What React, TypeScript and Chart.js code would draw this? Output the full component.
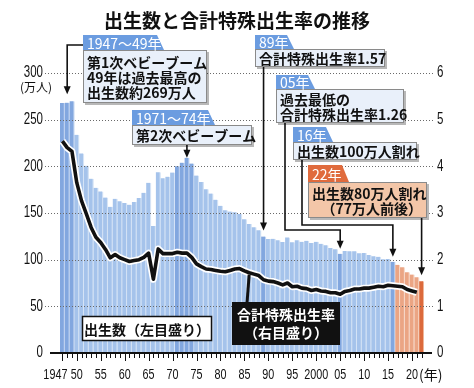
import React, { useEffect, useRef } from "react";
import { Chart, registerables } from "chart.js";
Chart.register(...registerables);

// ---- data ----
const years: number[] = [];
for (let y = 1947; y <= 2022; y++) years.push(y);

// births, 10k persons (万人)
const births = [
  267.9, 268.2, 269.7, 233.8, 213.8, 200.5, 186.8, 177.0, 173.1, 166.5,
  156.7, 165.3, 162.6, 160.6, 158.9, 161.9, 166.0, 171.7, 182.4, 136.1,
  193.6, 187.2, 188.9, 193.4, 200.1, 203.9, 209.2, 203.0, 190.1, 183.3,
  175.5, 170.9, 164.3, 157.7, 152.9, 151.5, 150.9, 149.0, 143.2, 138.3,
  134.7, 131.4, 124.7, 122.2, 122.3, 120.9, 118.8, 123.8, 118.7, 120.7,
  119.2, 120.3, 117.8, 119.1, 117.1, 115.4, 112.4, 111.1, 106.3, 109.3,
  109.0, 109.1, 107.0, 107.1, 105.1, 103.7, 103.0, 100.4, 100.6, 97.7,
  94.6, 91.8, 86.5, 84.1, 81.2, 77.0,
];

// total fertility rate
const tfr: (number | null)[] = [
  4.54, 4.4, 4.32, 3.65, 3.26, 2.98, 2.69, 2.48, 2.37, 2.22,
  2.04, 2.11, 2.04, 2.0, 1.96, 1.98, 2.0, 2.05, 2.14, 1.58,
  2.23, 2.13, 2.13, 2.13, 2.16, 2.14, 2.14, 2.05, 1.91, 1.85,
  1.8, 1.79, 1.77, 1.75, 1.74, 1.77, 1.8, 1.81, 1.76, 1.72,
  1.69, 1.66, 1.57, 1.54, 1.53, 1.5, 1.46, 1.5, 1.42, 1.43,
  1.39, 1.38, 1.34, 1.36, 1.33, 1.32, 1.29, 1.29, 1.26, 1.32,
  1.34, 1.37, 1.37, 1.39, 1.39, 1.41, 1.43, 1.42, 1.45, 1.44,
  1.43, 1.42, 1.36, 1.33, 1.3, null,
];

const xTickYears = [1947, 1950, 1955, 1960, 1965, 1970, 1975, 1980, 1985, 1990, 1995, 2000, 2005, 2010, 2015, 2020];
const xTickLabels = ["1947", "50", "55", "60", "65", "70", "75", "80", "85", "90", "95", "2000", "05", "10", "15", "20"];
const leftTicks = [0, 50, 100, 150, 200, 250, 300];
const rightTicks = [0, 1, 2, 3, 4, 5, 6];
const highlightYears = [1947, 1948, 1949, 1971, 1972, 1973, 1974, 1989, 2005, 2016];
const recentYears = [2017, 2018, 2019, 2020, 2021];
const latestYear = 2022;

// ---- styling ----
const NUM = "'Liberation Sans',Arial,sans-serif";
const JP = "'Noto Sans CJK JP','Noto Sans JP',sans-serif";
const BLUE_HEAD = "#6b9ce0";
const BLUE_BODY = "#e9f0fa";
const ORANGE_HEAD = "#e06b3d";
const ORANGE_BODY = "#f3c6a8";
const SQUEEZE = 0.72;

const idx = (yr: number) => years.indexOf(yr);

function narrowText(ctx: CanvasRenderingContext2D, text: string, x: number, y: number, align: CanvasTextAlign) {
  ctx.save();
  ctx.translate(x, y);
  ctx.scale(SQUEEZE, 1);
  ctx.textAlign = align;
  ctx.textBaseline = "middle";
  ctx.fillText(text, 0, 0);
  ctx.restore();
}

function drawArrow(ctx: CanvasRenderingContext2D, pts: number[][]) {
  ctx.save();
  ctx.strokeStyle = "#111";
  ctx.fillStyle = "#111";
  ctx.lineWidth = 1.6;
  ctx.setLineDash([]);
  const last = pts[pts.length - 1];
  ctx.beginPath();
  ctx.moveTo(pts[0][0], pts[0][1]);
  for (let i = 1; i < pts.length - 1; i++) ctx.lineTo(pts[i][0], pts[i][1]);
  ctx.lineTo(last[0], last[1] - 6);
  ctx.stroke();
  ctx.beginPath();
  ctx.moveTo(last[0], last[1]);
  ctx.lineTo(last[0] - 3.5, last[1] - 8);
  ctx.lineTo(last[0] + 3.5, last[1] - 8);
  ctx.closePath();
  ctx.fill();
  ctx.restore();
}

type Callout = {
  head: string; hx: number; hy: number; hw: number; hh: number; headColor: string;
  bx: number; by: number; bw: number; bh: number; bodyColor: string;
  lines: string[]; align?: ("left" | "right")[];
};

function drawCallout(ctx: CanvasRenderingContext2D, c: Callout) {
  ctx.save();
  ctx.fillStyle = "rgba(0,0,0,0.28)";
  ctx.fillRect(c.bx + 2, c.by + 2, c.bw, c.bh);
  ctx.fillStyle = c.bodyColor;
  ctx.fillRect(c.bx, c.by, c.bw, c.bh);
  ctx.strokeStyle = "#8a8a8a";
  ctx.lineWidth = 1;
  ctx.strokeRect(c.bx + 0.5, c.by + 0.5, c.bw - 1, c.bh - 1);
  ctx.beginPath();
  ctx.moveTo(c.hx, c.hy);
  ctx.lineTo(c.hx + c.hw, c.hy);
  ctx.lineTo(c.hx + c.hw + 7, c.hy + c.hh);
  ctx.lineTo(c.hx, c.hy + c.hh);
  ctx.closePath();
  ctx.fillStyle = c.headColor;
  ctx.fill();
  ctx.fillStyle = "#fff";
  ctx.font = `14px ${JP}`;
  ctx.textAlign = "left";
  ctx.textBaseline = "middle";
  ctx.fillText(c.head, c.hx + 4, c.hy + c.hh / 2 + 1);
  ctx.fillStyle = "#111";
  ctx.font = `bold 14px ${JP}`;
  const n = c.lines.length;
  const start = c.by + (c.bh - (n - 1) * 15) / 2 + 1;
  c.lines.forEach((ln, i) => {
    const a = c.align ? c.align[i] : "left";
    ctx.textAlign = a;
    ctx.fillText(ln, a === "left" ? c.bx + 4 : c.bx + c.bw - 5, start + i * 15);
  });
  ctx.restore();
}

const overlay = {
  id: "overlay",
  beforeDatasetDraw(chart: any, args: any) {
    if (args.index !== 1) return;
    const { ctx } = chart;
    const y = chart.scales.y;
    ctx.save();
    ctx.strokeStyle = "#6a6a6a";
    ctx.lineWidth = 1;
    ctx.setLineDash([1, 2]);
    for (const v of leftTicks) {
      if (v === 0) continue;
      const py = Math.round(y.getPixelForValue(v)) + 0.5;
      ctx.beginPath();
      ctx.moveTo(45, py);
      ctx.lineTo(433, py);
      ctx.stroke();
    }
    ctx.restore();
  },
  afterDraw(chart: any) {
    const { ctx } = chart;
    const x = chart.scales.x;
    const y = chart.scales.y;
    const y2 = chart.scales.y2;
    const y0 = y.getPixelForValue(0);
    const bx = (yr: number) => x.getPixelForValue(idx(yr));
    const by = (yr: number) => y.getPixelForValue(births[idx(yr)]);
    ctx.save();

    // baseline
    ctx.strokeStyle = "#111";
    ctx.lineWidth = 2;
    ctx.beginPath();
    ctx.moveTo(50, y0);
    ctx.lineTo(432, y0);
    ctx.stroke();
    // year ticks
    ctx.lineWidth = 1;
    years.forEach((yr, i) => {
      const px = Math.round(x.getPixelForValue(i)) + 0.5;
      const len = yr % 5 === 0 || yr === 1947 ? 7 : 4;
      ctx.beginPath();
      ctx.moveTo(px, y0 + 1);
      ctx.lineTo(px, y0 + 1 + len);
      ctx.stroke();
    });

    // axis labels (condensed)
    ctx.fillStyle = "#111";
    ctx.font = `15px ${NUM}`;
    xTickYears.forEach((yr, i) => {
      if (yr === 1947) narrowText(ctx, xTickLabels[i], bx(yr) + 5, 375, "right");
      else narrowText(ctx, xTickLabels[i], bx(yr), 375, "center");
    });
    ctx.font = `16px ${NUM}`;
    leftTicks.forEach((v) => narrowText(ctx, String(v), 43, y.getPixelForValue(v), "right"));
    rightTicks.forEach((v) => narrowText(ctx, String(v), 437, y2.getPixelForValue(v), "left"));

    // "(年)" after the last year label
    ctx.font = `15px ${NUM}`;
    const w20 = ctx.measureText("20").width * SQUEEZE;
    ctx.font = `14px ${JP}`;
    ctx.textAlign = "left";
    ctx.textBaseline = "middle";
    ctx.fillText("(年)", bx(2020) + w20 / 2 + 1, 375);

    // unit label
    ctx.font = `12px ${JP}`;
    ctx.textAlign = "center";
    ctx.fillText("(万人)", 36, 87);

    // title
    ctx.font = `bold 19px ${JP}`;
    ctx.fillStyle = "#111";
    ctx.textAlign = "center";
    ctx.fillText("出生数と合計特殊出生率の推移", 237, 21);

    // arrows
    drawArrow(ctx, [[83, 45], [bx(1948), 45], [bx(1948), by(1949) - 7]]);
    drawArrow(ctx, [[bx(1973), 145], [bx(1973), by(1973)]]);
    drawArrow(ctx, [[bx(1989), 67], [bx(1989), by(1989) - 6]]);
    drawArrow(ctx, [[285, 123], [285, 230], [bx(2005), 230], [bx(2005), by(2005) - 5]]);
    drawArrow(ctx, [[302, 160], [302, 225], [bx(2016), 225], [bx(2016), by(2016) - 5]]);
    drawArrow(ctx, [[bx(2022), 218], [bx(2022), by(2022) - 6]]);

    const callouts: Callout[] = [
      { head: "1947〜49年", hx: 83, hy: 35, hw: 74, hh: 15, headColor: BLUE_HEAD,
        bx: 83, by: 50, bw: 124, bh: 53, bodyColor: BLUE_BODY,
        lines: ["第1次ベビーブーム", "49年は過去最高の", "出生数約269万人"] },
      { head: "1971〜74年", hx: 132, hy: 110, hw: 76, hh: 15, headColor: BLUE_HEAD,
        bx: 132, by: 125, bw: 120, bh: 20, bodyColor: BLUE_BODY,
        lines: ["第2次ベビーブーム"] },
      { head: "89年", hx: 255, hy: 35, hw: 32, hh: 14, headColor: BLUE_HEAD,
        bx: 255, by: 49, bw: 130, bh: 18, bodyColor: BLUE_BODY,
        lines: ["合計特殊出生率1.57"] },
      { head: "05年", hx: 276, hy: 75, hw: 32, hh: 14, headColor: BLUE_HEAD,
        bx: 276, by: 89, bw: 128, bh: 34, bodyColor: BLUE_BODY,
        lines: ["過去最低の", "合計特殊出生率1.26"] },
      { head: "16年", hx: 293, hy: 127, hw: 33, hh: 15, headColor: BLUE_HEAD,
        bx: 293, by: 142, bw: 124, bh: 18, bodyColor: BLUE_BODY,
        lines: ["出生数100万人割れ"] },
      { head: "22年", hx: 308, hy: 165, hw: 34, hh: 17, headColor: ORANGE_HEAD,
        bx: 308, by: 182, bw: 119, bh: 36, bodyColor: ORANGE_BODY,
        lines: ["出生数80万人割れ", "（77万人前後）"], align: ["left", "right"] },
    ];
    callouts.forEach((c) => drawCallout(ctx, c));

    // left-scale legend box
    ctx.fillStyle = "#fff";
    ctx.fillRect(82, 316, 130, 25);
    ctx.strokeStyle = "#111";
    ctx.lineWidth = 1.5;
    ctx.strokeRect(82.5, 316.5, 129, 24);
    ctx.fillStyle = "#111";
    ctx.font = `bold 14px ${JP}`;
    ctx.textAlign = "center";
    ctx.textBaseline = "middle";
    ctx.fillText("出生数（左目盛り）", 147, 329.5);

    // right-scale legend box with pointer
    const py = y2.getPixelForValue(tfr[idx(1986)] as number);
    ctx.strokeStyle = "#111";
    ctx.lineWidth = 3;
    ctx.beginPath();
    ctx.moveTo(247, 303);
    ctx.lineTo(bx(1986), py + 2);
    ctx.stroke();
    ctx.fillStyle = "#111";
    ctx.fillRect(232, 302, 108, 43);
    ctx.fillStyle = "#fff";
    ctx.font = `bold 14px ${JP}`;
    ctx.fillText("合計特殊出生率", 286, 315);
    ctx.fillText("（右目盛り）", 286, 333);

    ctx.restore();
  },
};

export default function App() {
  const ref = useRef<HTMLCanvasElement>(null);
  useEffect(() => {
    if (!ref.current) return;
    const kind = (yr: number) =>
      yr === latestYear ? 3 : recentYears.includes(yr) ? 2 : highlightYears.includes(yr) ? 1 : 0;
    const fills = ["#a5c3eb", "#82a7df", "#eba584", "#dc6a3c"];
    const strips = ["#d6e4f6", "#c4d6f1", "#f7dacb", "#f0b89c"];
    const chart = new Chart(ref.current, {
      type: "bar",
      data: {
        labels: years.map(String),
        datasets: [
          {
            type: "bar",
            data: births,
            backgroundColor: years.map((yr) => fills[kind(yr)]),
            borderColor: years.map((yr) => strips[kind(yr)]),
            borderWidth: { left: 0, right: 1.3, top: 0, bottom: 0 },
            borderSkipped: false,
            barPercentage: 1,
            categoryPercentage: 1,
            yAxisID: "y",
            order: 2,
          } as any,
          {
            type: "line",
            data: tfr,
            borderColor: "#ffffff",
            borderWidth: 7,
            pointRadius: 0,
            tension: 0,
            borderJoinStyle: "round",
            yAxisID: "y2",
            order: 1,
          },
          {
            type: "line",
            data: tfr,
            borderColor: "#111111",
            borderWidth: 3.6,
            pointRadius: 0,
            tension: 0,
            borderJoinStyle: "round",
            yAxisID: "y2",
            order: 0,
          },
        ],
      },
      options: {
        responsive: false,
        animation: false,
        events: [],
        layout: { padding: { top: 73, left: 0, right: 0, bottom: 0 } },
        plugins: { legend: { display: false }, tooltip: { enabled: false } },
        scales: {
          x: {
            type: "category",
            offset: true,
            grid: { display: false },
            border: { display: false },
            afterFit: (s: any) => { s.height = 35; },
            ticks: { display: false, autoSkip: false },
          },
          y: {
            position: "left",
            min: 0,
            max: 300,
            grid: { display: false },
            border: { display: false },
            afterFit: (s: any) => { s.width = 60; },
            ticks: { display: false, stepSize: 50 },
          },
          y2: {
            position: "right",
            min: 0,
            max: 6,
            grid: { display: false },
            border: { display: false },
            afterFit: (s: any) => { s.width = 50; },
            ticks: { display: false, stepSize: 1 },
          },
        },
      },
      plugins: [overlay],
    });
    return () => chart.destroy();
  }, []);
  return (
    <div style={{ position: "fixed", left: 0, top: 0, width: 474, height: 388, background: "#fff" }}>
      <canvas ref={ref} width={474} height={388} style={{ display: "block" }} />
    </div>
  );
}
